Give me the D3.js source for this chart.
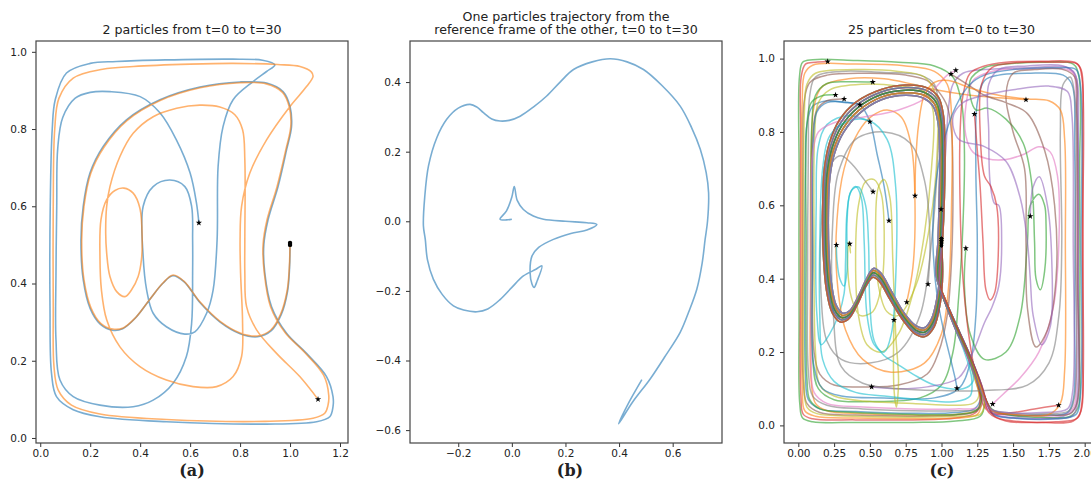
<!DOCTYPE html>
<html>
<head>
<meta charset="utf-8">
<script src="https://cdn.jsdelivr.net/npm/d3@7"></script>
<style>
  body { margin: 0; background: #fff; }
  svg { display: block; background: #fff; }
  text { font-family: 'DejaVu Sans', sans-serif; fill: #222; }
</style>
</head>
<body>
<svg id="chart" width="1091" height="481"></svg>
<script>
// ---- panel (a): two particles ----
const aBlue = [[1.0,0.5],[0.998,0.44],[0.99,0.38],[0.965,0.32],[0.925,0.278],[0.87,0.262],[0.8,0.27],[0.72,0.3],[0.64,0.35],[0.575,0.405],[0.53,0.42],[0.49,0.4],[0.44,0.36],[0.38,0.31],[0.33,0.283],[0.29,0.279],[0.24,0.295],[0.2,0.335],[0.172,0.41],[0.163,0.513],[0.172,0.6],[0.199,0.686],[0.252,0.755],[0.345,0.824],[0.479,0.876],[0.639,0.909],[0.799,0.922],[0.906,0.919],[0.972,0.897],[1.0,0.858],[1.006,0.807],[0.986,0.746],[0.952,0.651],[0.912,0.565],[0.895,0.5],[0.899,0.427],[0.926,0.34],[0.986,0.271],[1.066,0.219],[1.146,0.159],[1.172,0.107],[1.172,0.081],[1.159,0.055],[1.106,0.042],[0.906,0.036],[0.505,0.042],[0.239,0.055],[0.132,0.073],[0.065,0.107],[0.045,0.168],[0.039,0.34],[0.04,0.6],[0.048,0.8],[0.06,0.876],[0.105,0.945],[0.2,0.97],[0.305,0.975],[0.5,0.979],[0.772,0.981],[0.89,0.978],[0.939,0.966],[0.906,0.949],[0.852,0.923],[0.772,0.876],[0.732,0.807],[0.712,0.703],[0.708,0.513],[0.692,0.383],[0.666,0.323],[0.619,0.275],[0.579,0.269],[0.505,0.288],[0.452,0.323],[0.426,0.383],[0.412,0.47],[0.412,0.6],[0.452,0.651],[0.519,0.668],[0.579,0.651],[0.606,0.6],[0.61,0.513],[0.61,0.427],[0.606,0.297],[0.585,0.211],[0.532,0.142],[0.452,0.098],[0.372,0.081],[0.239,0.085],[0.132,0.107],[0.079,0.15],[0.063,0.254],[0.063,0.427],[0.066,0.6],[0.07,0.75],[0.09,0.83],[0.14,0.88],[0.2,0.895],[0.279,0.897],[0.4,0.884],[0.479,0.842],[0.545,0.772],[0.6,0.686],[0.625,0.61],[0.635,0.557]]
const aOrange = [[1.0,0.505],[0.997,0.44],[0.988,0.38],[0.962,0.32],[0.922,0.279],[0.868,0.264],[0.8,0.272],[0.72,0.302],[0.64,0.352],[0.575,0.406],[0.532,0.422],[0.492,0.402],[0.442,0.362],[0.382,0.312],[0.332,0.285],[0.29,0.282],[0.242,0.297],[0.203,0.337],[0.175,0.41],[0.166,0.513],[0.175,0.6],[0.202,0.685],[0.255,0.753],[0.347,0.822],[0.48,0.874],[0.64,0.907],[0.8,0.92],[0.905,0.917],[0.97,0.895],[0.997,0.857],[1.003,0.807],[0.983,0.746],[0.948,0.651],[0.908,0.565],[0.892,0.5],[0.897,0.427],[0.922,0.34],[0.98,0.273],[1.058,0.222],[1.135,0.162],[1.155,0.11],[1.152,0.085],[1.139,0.064],[1.092,0.051],[0.9,0.043],[0.505,0.048],[0.239,0.062],[0.125,0.085],[0.072,0.124],[0.055,0.185],[0.052,0.34],[0.052,0.6],[0.058,0.8],[0.075,0.88],[0.132,0.932],[0.25,0.955],[0.373,0.962],[0.6,0.968],[0.772,0.97],[0.95,0.967],[1.04,0.962],[1.085,0.948],[1.092,0.936],[1.066,0.91],[0.999,0.858],[0.906,0.772],[0.839,0.686],[0.806,0.6],[0.8,0.513],[0.802,0.427],[0.81,0.297],[0.806,0.211],[0.772,0.159],[0.706,0.133],[0.612,0.133],[0.505,0.15],[0.399,0.185],[0.319,0.236],[0.266,0.306],[0.245,0.383],[0.239,0.47],[0.243,0.565],[0.266,0.617],[0.299,0.641],[0.335,0.647],[0.372,0.634],[0.399,0.595],[0.408,0.513],[0.405,0.461],[0.392,0.418],[0.365,0.383],[0.339,0.366],[0.306,0.379],[0.279,0.418],[0.266,0.478],[0.262,0.53],[0.266,0.6],[0.279,0.651],[0.319,0.729],[0.372,0.789],[0.452,0.832],[0.546,0.854],[0.639,0.862],[0.719,0.857],[0.779,0.837],[0.81,0.798],[0.819,0.72],[0.819,0.513],[0.819,0.427],[0.826,0.34],[0.866,0.28],[0.946,0.219],[1.039,0.159],[1.112,0.1]]
const aTicksX = [0, 0.2, 0.4, 0.6, 0.8, 1.0, 1.2]
const aTicksY = [0, 0.2, 0.4, 0.6, 0.8, 1.0]

// ---- panel (b): relative trajectory ----
const bRel = [[0,0.006],[-0.02,0.004],[-0.044,0.006],[-0.02,0.03],[0.0,0.07],[0.009,0.10],[0.02,0.06],[0.043,0.034],[0.08,0.015],[0.118,0.006],[0.2,0.0],[0.28,-0.004],[0.317,-0.009],[0.28,-0.025],[0.22,-0.035],[0.155,-0.052],[0.1,-0.075],[0.075,-0.1],[0.068,-0.147],[0.075,-0.18],[0.083,-0.19],[0.095,-0.17],[0.112,-0.128],[0.09,-0.138],[0.043,-0.157],[0.0,-0.19],[-0.044,-0.225],[-0.09,-0.252],[-0.13,-0.26],[-0.18,-0.255],[-0.218,-0.243],[-0.26,-0.21],[-0.293,-0.166],[-0.315,-0.11],[-0.323,-0.052],[-0.33,-0.013],[-0.325,0.07],[-0.311,0.159],[-0.28,0.24],[-0.243,0.293],[-0.2,0.325],[-0.156,0.336],[-0.13,0.328],[-0.106,0.312],[-0.075,0.294],[-0.044,0.288],[-0.01,0.29],[0.031,0.302],[0.08,0.328],[0.13,0.36],[0.18,0.4],[0.23,0.436],[0.3,0.458],[0.367,0.467],[0.43,0.458],[0.491,0.436],[0.56,0.39],[0.628,0.331],[0.67,0.27],[0.703,0.207],[0.725,0.14],[0.734,0.082],[0.73,0.0],[0.721,-0.052],[0.71,-0.12],[0.69,-0.195],[0.66,-0.26],[0.628,-0.319],[0.57,-0.39],[0.516,-0.453],[0.45,-0.52],[0.398,-0.582],[0.43,-0.53],[0.485,-0.455]]
const bTicksX = [-0.2, 0, 0.2, 0.4, 0.6]
const bTicksY = [-0.6, -0.4, -0.2, 0, 0.2, 0.4]

// ---- panel (c): 25 particles ----
// first loop, shared by all particles (5 strands of the thick bundle)
const cBundles = [
  [[1.0,0.51],[0.993,0.43],[0.972,0.355],[0.932,0.292],[0.88,0.266],[0.82,0.272],[0.74,0.306],[0.65,0.366],[0.575,0.416],[0.525,0.428],[0.48,0.403],[0.42,0.353],[0.36,0.313],[0.31,0.306],[0.265,0.327],[0.232,0.385],[0.214,0.47],[0.21,0.58],[0.22,0.675],[0.254,0.743],[0.318,0.8],[0.425,0.85],[0.58,0.888],[0.75,0.9],[0.875,0.892],[0.945,0.868],[0.978,0.82],[0.988,0.74],[0.984,0.62],[0.975,0.5],[0.962,0.41]],
  [[1.0,0.505],[0.997,0.428],[0.977,0.35],[0.936,0.286],[0.881,0.26],[0.82,0.266],[0.74,0.3],[0.648,0.36],[0.573,0.41],[0.524,0.422],[0.478,0.397],[0.418,0.347],[0.357,0.307],[0.306,0.3],[0.258,0.322],[0.223,0.382],[0.204,0.47],[0.2,0.58],[0.21,0.68],[0.245,0.75],[0.31,0.808],[0.42,0.858],[0.58,0.895],[0.75,0.907],[0.88,0.9],[0.953,0.875],[0.987,0.826],[0.997,0.745],[0.993,0.62],[0.983,0.5],[0.968,0.405]],
  [[1.0,0.5],[1.0,0.425],[0.982,0.345],[0.94,0.28],[0.882,0.254],[0.82,0.26],[0.74,0.294],[0.646,0.354],[0.571,0.404],[0.523,0.416],[0.476,0.391],[0.416,0.341],[0.354,0.301],[0.302,0.294],[0.251,0.317],[0.214,0.378],[0.194,0.47],[0.19,0.58],[0.2,0.685],[0.236,0.757],[0.302,0.816],[0.415,0.866],[0.58,0.902],[0.75,0.914],[0.885,0.907],[0.961,0.882],[0.996,0.832],[1.006,0.75],[1.002,0.62],[0.991,0.5],[0.974,0.4]],
  [[1.0,0.495],[1.004,0.42],[0.987,0.34],[0.944,0.274],[0.883,0.248],[0.82,0.254],[0.74,0.288],[0.644,0.348],[0.569,0.398],[0.522,0.41],[0.474,0.385],[0.414,0.335],[0.351,0.295],[0.298,0.288],[0.244,0.312],[0.205,0.374],[0.184,0.47],[0.18,0.58],[0.19,0.69],[0.227,0.764],[0.294,0.824],[0.41,0.874],[0.58,0.909],[0.75,0.921],[0.89,0.914],[0.969,0.889],[1.005,0.838],[1.015,0.755],[1.011,0.62],[0.999,0.5],[0.98,0.395]],
  [[1.0,0.49],[1.008,0.415],[0.992,0.335],[0.948,0.268],[0.884,0.242],[0.82,0.248],[0.74,0.282],[0.642,0.342],[0.567,0.392],[0.521,0.404],[0.472,0.379],[0.412,0.329],[0.348,0.289],[0.294,0.282],[0.237,0.307],[0.196,0.37],[0.174,0.47],[0.17,0.58],[0.18,0.695],[0.218,0.771],[0.286,0.832],[0.405,0.882],[0.58,0.916],[0.75,0.928],[0.895,0.921],[0.977,0.896],[1.014,0.844],[1.024,0.76],[1.02,0.62],[1.007,0.5],[0.986,0.39]]
]
// which bundle strand each particle follows
const cTailBundle = [2, 3, 4, 1, 0, 2, 1, 3, 0, 4, 2, 3, 1, 0, 4, 2, 3, 1, 4, 0, 3, 1, 2, 4, 0]
// rest of each trajectory after the first loop
const cTails = [
  [[1.03,0.33],[1.11,0.26],[1.19,0.19],[1.25,0.12],[1.27,0.07],[1.23,0.045],[1.1,0.035],[0.8,0.033],[0.4,0.038],[0.15,0.045],[0.07,0.07],[0.05,0.14],[0.045,0.4],[0.05,0.7],[0.06,0.82],[0.1,0.87],[0.2,0.885],[0.32,0.88],[0.43,0.874],[0.5,0.828],[0.55,0.74],[0.6,0.65],[0.633,0.558]],
  [[1.04,0.33],[1.12,0.26],[1.2,0.18],[1.26,0.11],[1.28,0.065],[1.24,0.04],[1.1,0.03],[0.8,0.028],[0.45,0.032],[0.2,0.04],[0.12,0.06],[0.09,0.12],[0.085,0.4],[0.09,0.75],[0.11,0.87],[0.17,0.925],[0.35,0.945],[0.6,0.945],[0.8,0.93],[0.96,0.915],[1.2,0.9],[1.4,0.893],[1.59,0.888]],
  [[1.05,0.32],[1.13,0.25],[1.21,0.18],[1.27,0.11],[1.3,0.06],[1.27,0.025],[1.1,0.012],[0.8,0.008],[0.4,0.008],[0.1,0.01],[0.03,0.02],[0.01,0.06],[0.005,0.3],[0.005,0.7],[0.008,0.95],[0.03,0.99],[0.1,0.997],[0.4,0.995],[0.7,0.99],[0.95,0.98],[1.08,0.95],[1.14,0.88],[1.16,0.75],[1.15,0.55],[1.12,0.35],[1.08,0.2],[1.0,0.11],[0.85,0.075],[0.5,0.065],[0.25,0.07],[0.14,0.1],[0.1,0.18],[0.09,0.5],[0.095,0.82],[0.12,0.9],[0.2,0.932],[0.35,0.937],[0.52,0.936]],
  [[1.03,0.33],[1.1,0.26],[1.18,0.19],[1.24,0.12],[1.27,0.07],[1.24,0.035],[1.1,0.02],[0.8,0.015],[0.4,0.015],[0.1,0.018],[0.035,0.03],[0.018,0.08],[0.015,0.4],[0.016,0.8],[0.02,0.95],[0.05,0.985],[0.12,0.99],[0.205,0.992]],
  [[1.02,0.34],[1.09,0.27],[1.17,0.2],[1.24,0.13],[1.29,0.08],[1.33,0.04],[1.42,0.025],[1.6,0.02],[1.85,0.025],[1.93,0.045],[1.95,0.1],[1.955,0.4],[1.955,0.8],[1.94,0.95],[1.88,0.975],[1.6,0.975],[1.3,0.97],[1.15,0.96],[1.08,0.93],[1.05,0.87],[1.03,0.75],[1.01,0.65],[0.997,0.589]],
  [[1.03,0.33],[1.11,0.26],[1.19,0.19],[1.25,0.12],[1.28,0.07],[1.25,0.04],[1.1,0.028],[0.8,0.025],[0.4,0.028],[0.15,0.035],[0.06,0.06],[0.035,0.12],[0.03,0.4],[0.032,0.75],[0.04,0.88],[0.08,0.935],[0.2,0.955],[0.5,0.96],[0.75,0.955],[0.9,0.94],[0.98,0.91],[1.04,0.87],[1.07,0.8],[1.08,0.65],[1.07,0.45],[1.04,0.3],[0.98,0.2],[0.9,0.14],[0.7,0.11],[0.45,0.105],[0.25,0.11],[0.15,0.14],[0.11,0.2],[0.1,0.5],[0.1,0.78],[0.13,0.86],[0.2,0.885],[0.32,0.89]],
  [[1.03,0.33],[1.1,0.26],[1.18,0.19],[1.25,0.12],[1.3,0.07],[1.34,0.04],[1.45,0.028],[1.65,0.025],[1.86,0.03],[1.925,0.05],[1.94,0.12],[1.945,0.5],[1.94,0.9],[1.92,0.96],[1.85,0.972],[1.6,0.972],[1.35,0.965],[1.22,0.94],[1.17,0.87],[1.17,0.79],[1.22,0.745],[1.32,0.727],[1.45,0.725],[1.58,0.74],[1.68,0.76],[1.76,0.745],[1.81,0.68],[1.82,0.5],[1.78,0.32],[1.68,0.2],[1.55,0.13],[1.43,0.085],[1.357,0.058]],
  [[1.04,0.33],[1.12,0.26],[1.2,0.19],[1.26,0.12],[1.29,0.07],[1.26,0.045],[1.1,0.04],[0.8,0.04],[0.45,0.045],[0.2,0.055],[0.1,0.08],[0.07,0.15],[0.065,0.4],[0.07,0.75],[0.08,0.9],[0.12,0.95],[0.3,0.965],[0.6,0.962],[0.85,0.955],[0.95,0.93],[0.98,0.85],[0.97,0.7],[0.93,0.5],[0.85,0.3],[0.7,0.2],[0.5,0.17],[0.3,0.18],[0.2,0.23],[0.16,0.35],[0.16,0.55],[0.19,0.66],[0.24,0.72],[0.3,0.735],[0.38,0.71],[0.46,0.67],[0.522,0.637]],
  [[1.02,0.34],[1.09,0.27],[1.17,0.2],[1.23,0.13],[1.26,0.08],[1.22,0.06],[1.1,0.055],[0.8,0.06],[0.5,0.065],[0.25,0.08],[0.15,0.11],[0.12,0.2],[0.11,0.5],[0.115,0.8],[0.14,0.88],[0.22,0.915],[0.45,0.93],[0.7,0.925],[0.88,0.91],[0.94,0.86],[0.93,0.7],[0.88,0.52],[0.8,0.36],[0.7,0.25],[0.58,0.2],[0.48,0.22],[0.42,0.3],[0.4,0.45],[0.42,0.6],[0.47,0.665],[0.53,0.67],[0.58,0.63],[0.6,0.5],[0.58,0.38],[0.52,0.31],[0.43,0.3],[0.37,0.35],[0.345,0.43],[0.352,0.5],[0.365,0.47],[0.359,0.495]],
  [[1.05,0.32],[1.13,0.25],[1.2,0.17],[1.22,0.12],[1.15,0.1],[0.95,0.11],[0.8,0.14],[0.68,0.17],[0.6,0.19],[0.53,0.23],[0.5,0.33],[0.49,0.5],[0.47,0.6],[0.42,0.65],[0.37,0.64],[0.34,0.58],[0.33,0.45],[0.32,0.36],[0.28,0.3],[0.22,0.25],[0.16,0.22],[0.13,0.3],[0.125,0.6],[0.14,0.76],[0.2,0.82],[0.35,0.845],[0.5,0.828]],
  [[1.04,0.33],[1.12,0.26],[1.2,0.19],[1.27,0.12],[1.31,0.07],[1.35,0.04],[1.45,0.03],[1.7,0.028],[1.88,0.035],[1.92,0.07],[1.93,0.3],[1.93,0.75],[1.91,0.93],[1.85,0.955],[1.6,0.96],[1.4,0.955],[1.3,0.94],[1.25,0.88],[1.24,0.7],[1.25,0.5],[1.24,0.3],[1.2,0.17],[1.12,0.1],[0.95,0.075],[0.6,0.075],[0.3,0.08],[0.17,0.1],[0.11,0.16],[0.1,0.45],[0.105,0.78],[0.13,0.855],[0.2,0.88],[0.32,0.882],[0.43,0.874]],
  [[1.04,0.33],[1.11,0.26],[1.19,0.19],[1.25,0.12],[1.28,0.07],[1.25,0.03],[1.1,0.02],[0.8,0.018],[0.4,0.02],[0.12,0.025],[0.045,0.04],[0.028,0.1],[0.025,0.5],[0.027,0.88],[0.045,0.96],[0.1,0.982],[0.4,0.985],[0.75,0.98],[0.95,0.965],[1.04,0.93],[1.07,0.85],[1.07,0.6],[1.05,0.38],[1.0,0.25],[0.88,0.17],[0.65,0.145],[0.45,0.18],[0.33,0.26],[0.27,0.4],[0.27,0.56],[0.32,0.7],[0.42,0.8],[0.52,0.845],[0.62,0.86],[0.72,0.84],[0.79,0.76],[0.815,0.6],[0.8,0.43],[0.757,0.336]],
  [[1.03,0.34],[1.1,0.27],[1.18,0.2],[1.25,0.13],[1.3,0.08],[1.35,0.045],[1.45,0.03],[1.7,0.022],[1.9,0.025],[1.955,0.05],[1.965,0.2],[1.965,0.7],[1.96,0.95],[1.92,0.985],[1.7,0.99],[1.45,0.985],[1.3,0.975],[1.2,0.94],[1.24,0.86],[1.32,0.865],[1.45,0.835],[1.57,0.77],[1.63,0.66],[1.65,0.5],[1.66,0.4],[1.69,0.37],[1.72,0.42],[1.73,0.55],[1.72,0.6],[1.68,0.63],[1.62,0.6],[1.6,0.5],[1.55,0.3],[1.45,0.2],[1.3,0.18],[1.2,0.25],[1.16,0.38],[1.17,0.483]],
  [[1.02,0.34],[1.09,0.27],[1.17,0.2],[1.24,0.13],[1.29,0.08],[1.33,0.035],[1.45,0.012],[1.7,0.008],[1.92,0.012],[1.975,0.04],[1.985,0.2],[1.985,0.8],[1.975,0.97],[1.93,0.99],[1.7,0.993],[1.45,0.99],[1.3,0.98],[1.2,0.96],[1.15,0.9],[1.13,0.8],[1.13,0.6],[1.15,0.4],[1.2,0.22],[1.26,0.1],[1.3,0.05],[1.36,0.032],[1.5,0.035],[1.65,0.045],[1.818,0.055]],
  [[1.05,0.32],[1.13,0.25],[1.21,0.18],[1.28,0.11],[1.32,0.06],[1.37,0.03],[1.5,0.02],[1.75,0.018],[1.91,0.025],[1.95,0.06],[1.955,0.4],[1.95,0.85],[1.93,0.96],[1.85,0.98],[1.6,0.98],[1.4,0.97],[1.33,0.93],[1.33,0.8],[1.34,0.66],[1.37,0.605],[1.4,0.6],[1.42,0.5],[1.4,0.38],[1.35,0.32],[1.3,0.28],[1.22,0.2],[1.12,0.13],[0.9,0.105],[0.7,0.1],[0.512,0.105]],
  [[1.03,0.33],[1.11,0.26],[1.19,0.19],[1.26,0.12],[1.31,0.07],[1.36,0.04],[1.5,0.03],[1.75,0.028],[1.9,0.032],[1.945,0.06],[1.95,0.4],[1.945,0.85],[1.93,0.95],[1.85,0.97],[1.65,0.97],[1.5,0.96],[1.45,0.9],[1.5,0.8],[1.58,0.7],[1.59,0.5],[1.6,0.32],[1.66,0.214],[1.74,0.26],[1.8,0.4],[1.79,0.6],[1.72,0.75],[1.6,0.85],[1.45,0.88],[1.3,0.9],[1.18,0.93],[1.066,0.958]],
  [[1.04,0.33],[1.12,0.26],[1.2,0.19],[1.26,0.12],[1.29,0.075],[1.26,0.05],[1.1,0.045],[0.8,0.045],[0.45,0.05],[0.2,0.06],[0.11,0.09],[0.09,0.2],[0.09,0.55],[0.1,0.74],[0.14,0.8],[0.25,0.825],[0.45,0.84],[0.7,0.86],[0.88,0.89],[0.98,0.93],[1.04,0.955],[1.1,0.968]],
  [[1.03,0.34],[1.1,0.27],[1.18,0.2],[1.25,0.13],[1.3,0.08],[1.34,0.045],[1.45,0.035],[1.7,0.032],[1.89,0.04],[1.93,0.08],[1.935,0.5],[1.93,0.9],[1.9,0.95],[1.85,0.93],[1.83,0.8],[1.84,0.5],[1.82,0.3],[1.75,0.17],[1.6,0.11],[1.3,0.095],[1.0,0.095],[0.7,0.1],[0.45,0.115],[0.3,0.16],[0.245,0.3],[0.24,0.55],[0.28,0.69],[0.4,0.78],[0.6,0.8],[0.78,0.77],[0.88,0.67],[0.92,0.5],[0.906,0.385]],
  [[1.05,0.32],[1.13,0.25],[1.21,0.18],[1.27,0.11],[1.3,0.06],[1.27,0.03],[1.1,0.025],[0.8,0.022],[0.4,0.025],[0.13,0.032],[0.06,0.05],[0.04,0.12],[0.038,0.5],[0.042,0.85],[0.06,0.93],[0.12,0.96],[0.4,0.97],[0.7,0.965],[0.88,0.95],[0.96,0.9],[0.97,0.75],[0.92,0.55],[0.82,0.38],[0.7,0.3],[0.62,0.31],[0.56,0.38],[0.54,0.55],[0.56,0.65],[0.6,0.67],[0.64,0.62],[0.66,0.45],[0.68,0.25],[0.7,0.12],[0.685,0.05],[0.668,0.1],[0.668,0.287]],
  [[1.02,0.34],[1.09,0.27],[1.16,0.2],[1.21,0.13],[1.2,0.08],[1.1,0.065],[0.85,0.07],[0.6,0.08],[0.4,0.09],[0.25,0.12],[0.17,0.18],[0.15,0.3],[0.15,0.5],[0.17,0.7],[0.22,0.79],[0.35,0.83],[0.5,0.83],[0.62,0.78],[0.68,0.65],[0.68,0.4],[0.65,0.25],[0.6,0.2],[0.53,0.22],[0.48,0.3],[0.46,0.5],[0.44,0.62],[0.4,0.651],[0.36,0.63],[0.34,0.55],[0.34,0.42],[0.32,0.38],[0.29,0.4],[0.27,0.45],[0.266,0.492]],
  [[1.04,0.33],[1.12,0.26],[1.2,0.19],[1.27,0.12],[1.31,0.07],[1.36,0.03],[1.5,0.02],[1.8,0.018],[1.94,0.03],[1.97,0.08],[1.975,0.5],[1.97,0.93],[1.94,0.97],[1.8,0.975],[1.5,0.97],[1.3,0.955],[1.2,0.93],[1.1,0.87],[1.0,0.75],[0.95,0.62],[0.94,0.5],[0.97,0.35],[1.02,0.25],[1.07,0.17],[1.1,0.12],[1.108,0.101]],
  [[1.03,0.34],[1.1,0.27],[1.18,0.2],[1.25,0.13],[1.3,0.08],[1.35,0.04],[1.5,0.03],[1.75,0.03],[1.83,0.06],[1.86,0.15],[1.865,0.5],[1.86,0.78],[1.83,0.86],[1.75,0.885],[1.6,0.89],[1.4,0.9],[1.2,0.92],[1.05,0.94],[0.95,0.935],[0.88,0.9],[0.84,0.82],[0.82,0.72],[0.815,0.626]],
  [[1.03,0.33],[1.11,0.26],[1.19,0.19],[1.25,0.12],[1.28,0.07],[1.24,0.04],[1.1,0.03],[0.8,0.03],[0.4,0.035],[0.15,0.045],[0.08,0.07],[0.06,0.13],[0.055,0.5],[0.06,0.82],[0.09,0.88],[0.16,0.898],[0.26,0.901]],
  [[1.05,0.32],[1.13,0.25],[1.21,0.18],[1.28,0.11],[1.32,0.06],[1.37,0.025],[1.5,0.012],[1.8,0.01],[1.95,0.02],[1.98,0.06],[1.985,0.5],[1.98,0.95],[1.95,0.985],[1.8,0.99],[1.5,0.988],[1.35,0.975],[1.28,0.93],[1.27,0.8],[1.3,0.68],[1.345,0.651],[1.385,0.6],[1.395,0.45],[1.37,0.36],[1.34,0.342],[1.31,0.37],[1.29,0.5],[1.27,0.65],[1.25,0.75],[1.23,0.849]],
  [[1.02,0.34],[1.09,0.27],[1.17,0.2],[1.24,0.13],[1.29,0.08],[1.34,0.045],[1.45,0.035],[1.7,0.035],[1.88,0.045],[1.915,0.09],[1.92,0.5],[1.91,0.85],[1.88,0.91],[1.75,0.925],[1.5,0.915],[1.3,0.9],[1.15,0.88],[1.08,0.84],[1.12,0.78],[1.3,0.76],[1.45,0.72],[1.55,0.62],[1.6,0.5],[1.62,0.4],[1.64,0.3],[1.7,0.22],[1.76,0.27],[1.77,0.45],[1.74,0.6],[1.683,0.678],[1.64,0.65],[1.62,0.57]]
]
const cTicksX = [0, 0.25, 0.5, 0.75, 1.0, 1.25, 1.5, 1.75, 2.0]
const cTicksY = [0, 0.2, 0.4, 0.6, 0.8, 1.0]

const colors = d3.schemeCategory10
const svg = d3.select('#chart')

// draws frame, ticks, titles and returns the scales
function panel(id, box, xDomain, yDomain, xTicks, yTicks, xFmt, yFmt, titleLines, label) {
  const x = d3.scaleLinear().domain(xDomain).range([box.left, box.right])
  const y = d3.scaleLinear().domain(yDomain).range([box.bottom, box.top])

  svg.append('clipPath').attr('id', 'clip-' + id)
    .append('rect')
    .attr('x', box.left).attr('y', box.top)
    .attr('width', box.right - box.left).attr('height', box.bottom - box.top)

  const xAxis = svg.append('g')
    .attr('transform', 'translate(0,' + box.bottom + ')')
    .call(d3.axisBottom(x).tickValues(xTicks).tickFormat(d3.format(xFmt)).tickSize(4).tickPadding(2.5))
  const yAxis = svg.append('g')
    .attr('transform', 'translate(' + box.left + ',0)')
    .call(d3.axisLeft(y).tickValues(yTicks).tickFormat(d3.format(yFmt)).tickSize(4).tickPadding(5))
  for (const ax of [xAxis, yAxis]) {
    ax.select('.domain').remove()
    ax.selectAll('line').attr('stroke', '#333')
    ax.selectAll('text').attr('font-size', 10.5).attr('font-family', 'DejaVu Sans').attr('fill', '#222')
  }

  const cx = (box.left + box.right) / 2
  titleLines.forEach((t, i) => {
    svg.append('text')
      .attr('x', cx).attr('y', 34 - (titleLines.length - 1 - i) * 13.5)
      .attr('text-anchor', 'middle').attr('font-size', 12.6)
      .text(t)
  })

  svg.append('text')
    .attr('x', label.x).attr('y', 476)
    .attr('text-anchor', 'middle')
    .attr('font-family', 'DejaVu Serif, serif').attr('font-size', 16).attr('font-weight', 'bold')
    .style('font-family', 'DejaVu Serif, serif')
    .text(label.text)

  const plot = svg.append('g').attr('clip-path', 'url(#clip-' + id + ')')
  return {x, y, plot, box}
}

function frame(p) {
  svg.append('rect')
    .attr('x', p.box.left).attr('y', p.box.top)
    .attr('width', p.box.right - p.box.left).attr('height', p.box.bottom - p.box.top)
    .attr('fill', 'none').attr('stroke', '#444').attr('stroke-width', 1.2)
}

function lineGen(p) {
  return d3.line()
    .x(d => p.x(d[0]))
    .y(d => p.y(d[1]))
    .curve(d3.curveCatmullRom.alpha(0.5))
}

const star = d3.symbol().type(d3.symbolStar).size(12)

// panel (a)
const pa = panel('a', {left: 36, right: 348, top: 41, bottom: 443},
  [-0.017, 1.232], [-0.013, 1.028], aTicksX, aTicksY, '.1f', '.1f',
  ['2 particles from t=0 to t=30'], {x: 192, text: '(a)'})
const la = lineGen(pa)
;[aBlue, aOrange].forEach((tr, i) => {
  pa.plot.append('path').attr('d', la(tr))
    .attr('fill', 'none').attr('stroke', colors[i])
    .attr('stroke-opacity', 0.6).attr('stroke-width', 1.6)
})
;[aBlue, aOrange].forEach(tr => {
  const s = tr[0], e = tr[tr.length - 1]
  pa.plot.append('circle').attr('cx', pa.x(s[0])).attr('cy', pa.y(s[1])).attr('r', 2.2).attr('fill', '#000')
  pa.plot.append('path').attr('d', star)
    .attr('transform', 'translate(' + pa.x(e[0]) + ',' + pa.y(e[1]) + ')').attr('fill', '#000')
})
frame(pa)

// panel (b)
const pb = panel('b', {left: 410, right: 722, top: 41, bottom: 443},
  [-0.380, 0.784], [-0.637, 0.518], bTicksX, bTicksY, '.1f', '.1f',
  ['One particles trajectory from the', 'reference frame of the other, t=0 to t=30'], {x: 570, text: '(b)'})
pb.plot.append('path').attr('d', lineGen(pb)(bRel))
  .attr('fill', 'none').attr('stroke', colors[0])
  .attr('stroke-opacity', 0.6).attr('stroke-width', 1.6)
frame(pb)

// panel (c)
const pc = panel('c', {left: 784, right: 1099, top: 41, bottom: 443},
  [-0.1, 2.1], [-0.048, 1.048], cTicksX, cTicksY, '.2f', '.1f',
  ['25 particles from t=0 to t=30'], {x: 942, text: '(c)'})
const lc = lineGen(pc)
const cTracks = cTails.map((t, i) => cBundles[cTailBundle[i]].concat(t))
cTracks.forEach((tr, i) => {
  pc.plot.append('path').attr('d', lc(tr))
    .attr('fill', 'none').attr('stroke', colors[i % 10])
    .attr('stroke-opacity', 0.6).attr('stroke-width', 1.5)
})
cTracks.forEach(tr => {
  const s = tr[0], e = tr[tr.length - 1]
  pc.plot.append('circle').attr('cx', pc.x(s[0])).attr('cy', pc.y(s[1])).attr('r', 1.6).attr('fill', '#000')
  pc.plot.append('path').attr('d', star)
    .attr('transform', 'translate(' + pc.x(e[0]) + ',' + pc.y(e[1]) + ')').attr('fill', '#000')
})
frame(pc)
</script>
</body>
</html>
